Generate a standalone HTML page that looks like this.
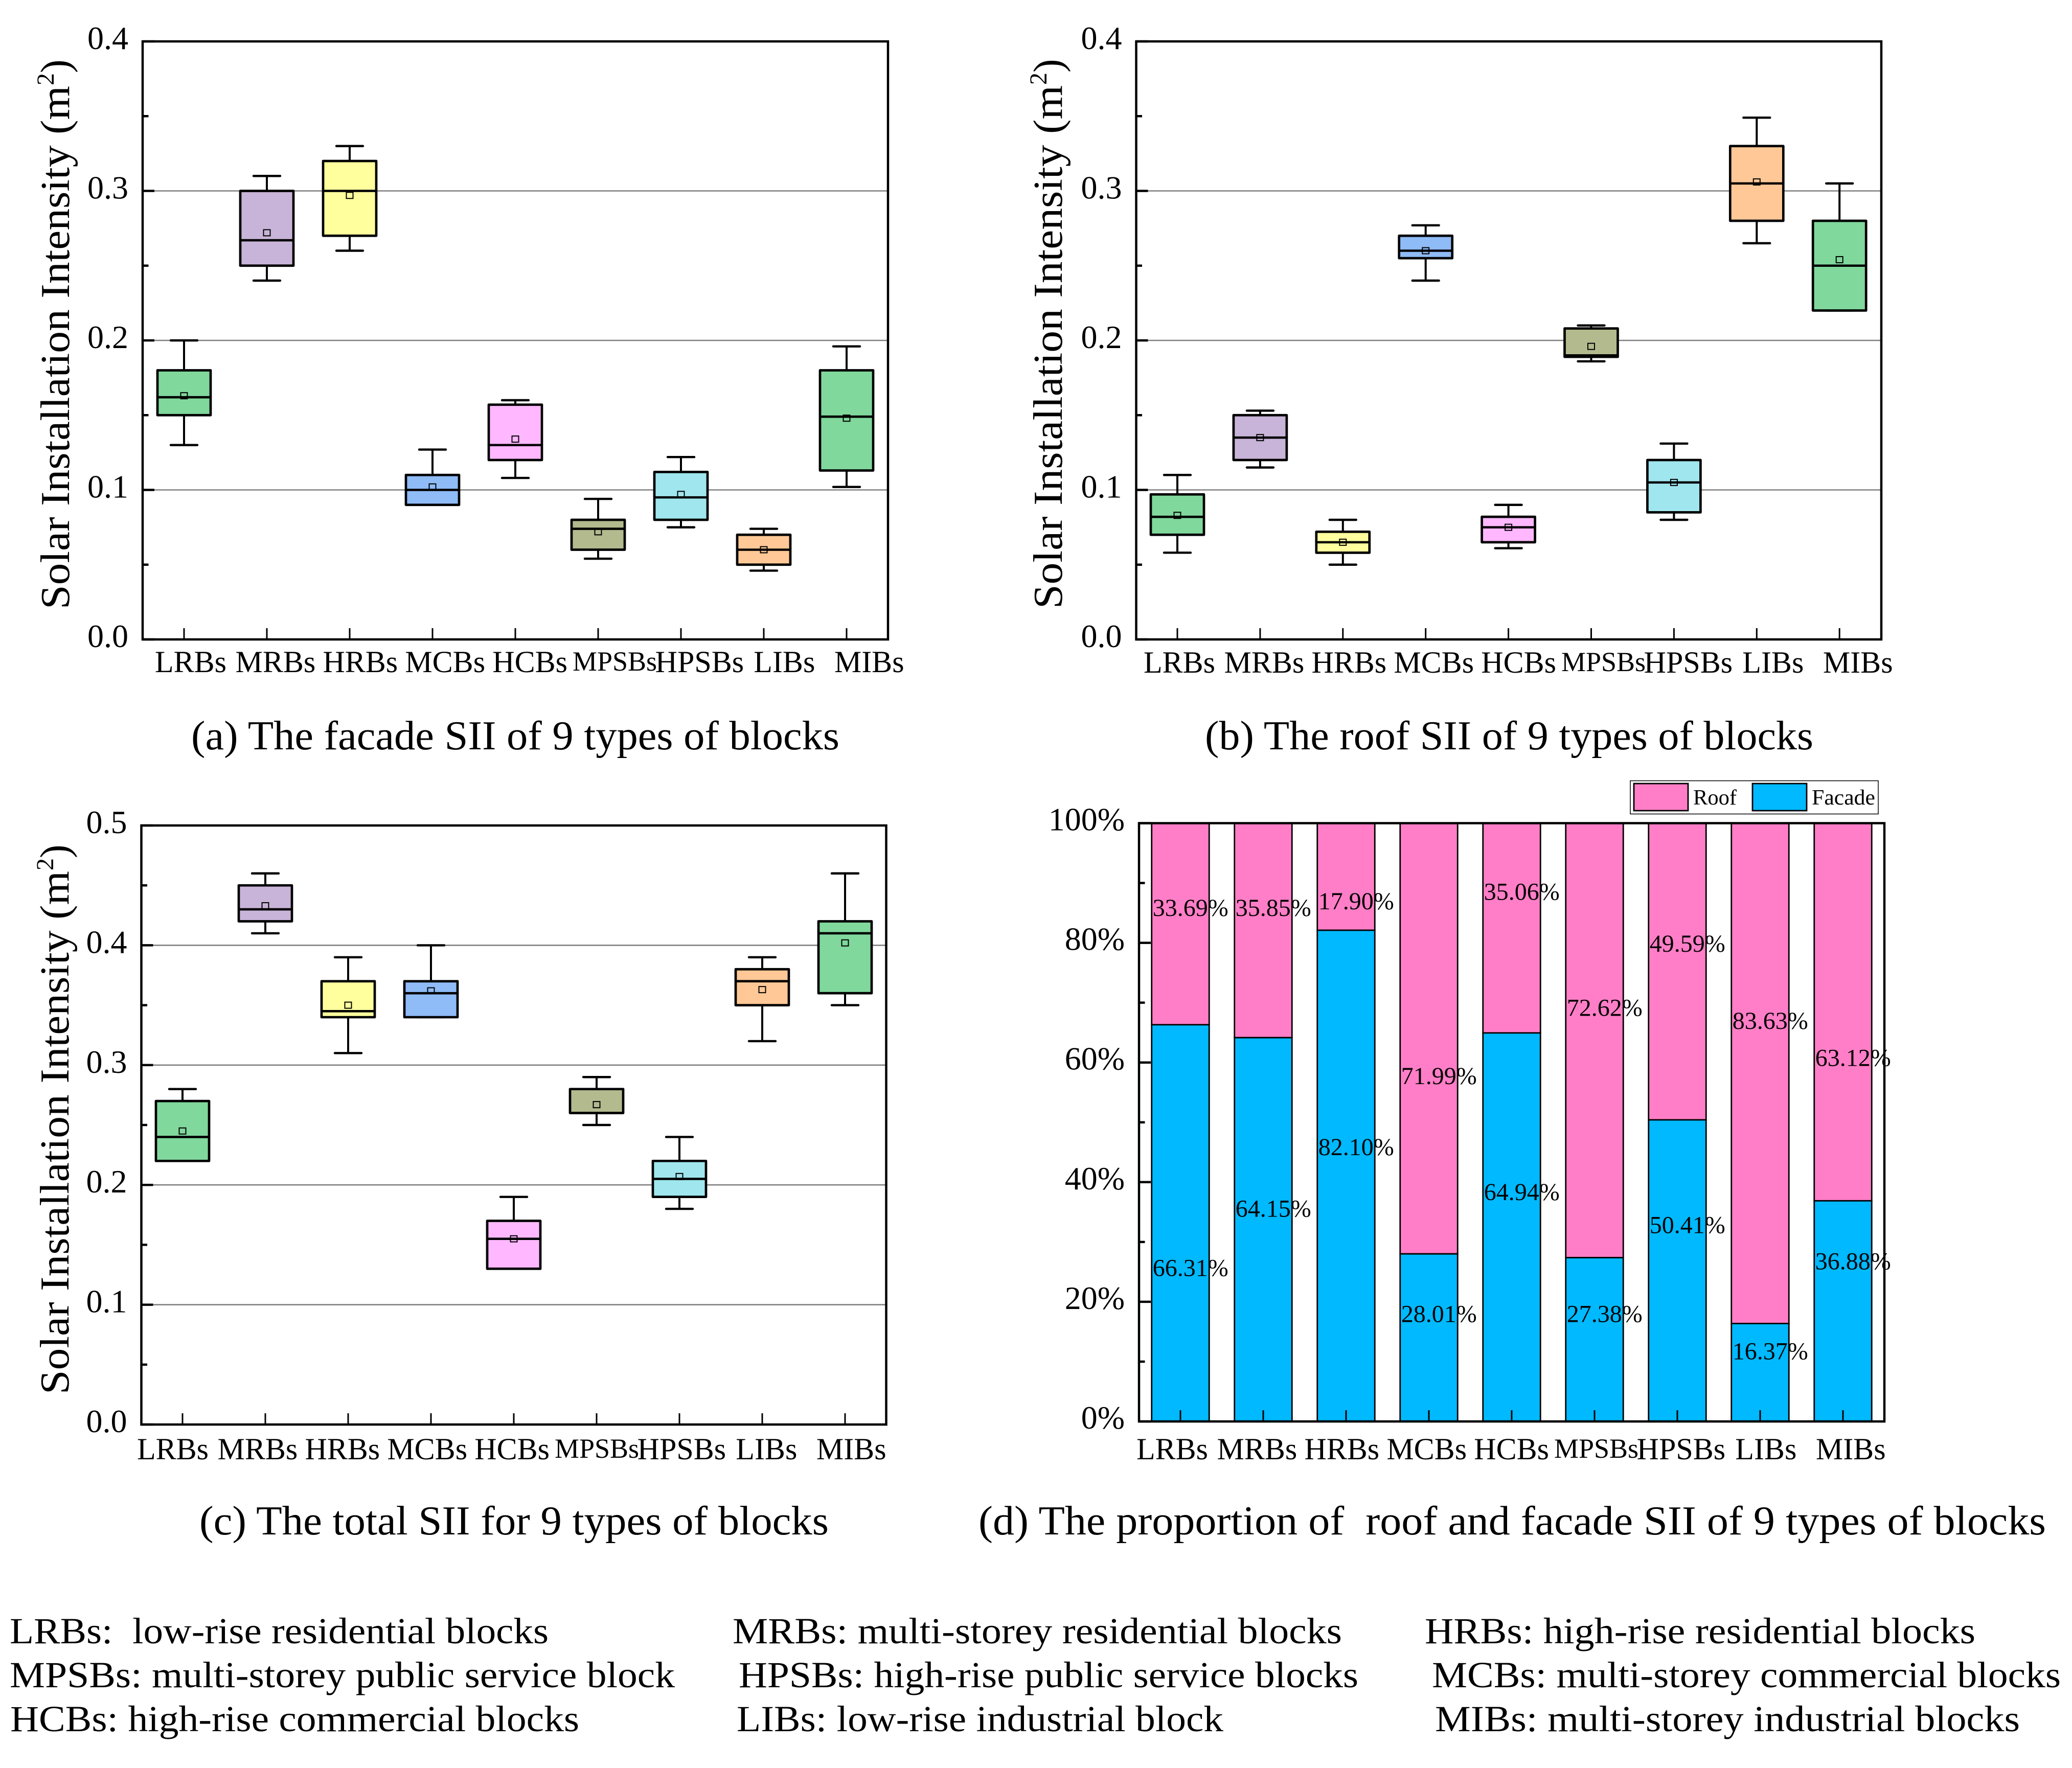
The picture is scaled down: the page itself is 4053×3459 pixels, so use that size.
<!DOCTYPE html>
<html lang="en">
<head>
<meta charset="utf-8">
<title>Solar Installation Intensity of 9 types of blocks</title>
<style>
html,body{margin:0;padding:0;background:#fff;}
svg{display:block;}
text{font-family:"Liberation Serif",serif;fill:#000;white-space:pre;}
.cap{font-size:80px;}
.note{font-size:72px;}
</style>
</head>
<body>
<svg id="figure" xmlns="http://www.w3.org/2000/svg" width="4053" height="3459" viewBox="0 0 4053 3459">
<rect x="0" y="0" width="4053" height="3459" fill="#fff"/>
<g id="panels"></g>
<text class="cap" x="374" y="1466" textLength="1268" lengthAdjust="spacingAndGlyphs">(a) The facade SII of 9 types of blocks</text>
<text class="cap" x="2357" y="1466" textLength="1190" lengthAdjust="spacingAndGlyphs">(b) The roof SII of 9 types of blocks</text>
<text class="cap" x="390" y="3002" textLength="1231" lengthAdjust="spacingAndGlyphs">(c) The total SII for 9 types of blocks</text>
<text class="cap" x="1914" y="3002" textLength="2088" lengthAdjust="spacingAndGlyphs">(d) The proportion of  roof and facade SII of 9 types of blocks</text>
<text class="note" x="19" y="3215" textLength="1054" lengthAdjust="spacingAndGlyphs">LRBs:  low-rise residential blocks</text>
<text class="note" x="1433" y="3215" textLength="1192" lengthAdjust="spacingAndGlyphs">MRBs: multi-storey residential blocks</text>
<text class="note" x="2787" y="3215" textLength="1077" lengthAdjust="spacingAndGlyphs">HRBs: high-rise residential blocks</text>
<text class="note" x="19" y="3301" textLength="1301" lengthAdjust="spacingAndGlyphs">MPSBs: multi-storey public service block</text>
<text class="note" x="1445" y="3301" textLength="1212" lengthAdjust="spacingAndGlyphs">HPSBs: high-rise public service blocks</text>
<text class="note" x="2801" y="3301" textLength="1230" lengthAdjust="spacingAndGlyphs">MCBs: multi-storey commercial blocks</text>
<text class="note" x="20" y="3387" textLength="1113" lengthAdjust="spacingAndGlyphs">HCBs: high-rise commercial blocks</text>
<text class="note" x="1441" y="3387" textLength="952" lengthAdjust="spacingAndGlyphs">LIBs: low-rise industrial block</text>
<text class="note" x="2807" y="3387" textLength="1144" lengthAdjust="spacingAndGlyphs">MIBs: multi-storey industrial blocks</text>
</svg>
<script>
const categories = ['LRBs','MRBs','HRBs','MCBs','HCBs','MPSBs','HPSBs','LIBs','MIBs'];
const boxColors = ['#80D89C','#C8B4D8','#FFFF9E','#8FBBF7','#FFB8FF','#B2BA8E','#A0E6EE','#FFC896','#80D89C'];

const axisTicksAB = ['0.0','0.1','0.2','0.3','0.4'];
const axisTicksC = ['0.0','0.1','0.2','0.3','0.4','0.5'];
const axisTicksD = ['0%','20%','40%','60%','80%','100%'];

const facadeLow    = [0.130,0.240,0.260,0.090,0.108,0.054,0.075,0.046,0.102];
const facadeQ1     = [0.150,0.250,0.270,0.090,0.120,0.060,0.080,0.050,0.113];
const facadeMedian = [0.162,0.267,0.300,0.100,0.130,0.074,0.095,0.060,0.149];
const facadeQ3     = [0.180,0.300,0.320,0.110,0.157,0.080,0.112,0.070,0.180];
const facadeHigh   = [0.200,0.310,0.330,0.127,0.160,0.094,0.122,0.074,0.196];
const facadeMean   = [0.163,0.272,0.297,0.102,0.134,0.072,0.097,0.060,0.148];

const roofLow    = [0.058,0.115,0.050,0.240,0.061,0.186,0.080,0.265,0.220];
const roofQ1     = [0.070,0.120,0.058,0.255,0.065,0.189,0.085,0.280,0.220];
const roofMedian = [0.082,0.135,0.065,0.260,0.075,0.190,0.105,0.305,0.250];
const roofQ3     = [0.097,0.150,0.072,0.270,0.082,0.208,0.120,0.330,0.280];
const roofHigh   = [0.110,0.153,0.080,0.277,0.090,0.210,0.131,0.349,0.305];
const roofMean   = [0.083,0.135,0.065,0.260,0.075,0.196,0.105,0.306,0.254];

const totalLow    = [0.220,0.410,0.310,0.340,0.130,0.250,0.180,0.320,0.350];
const totalQ1     = [0.220,0.420,0.340,0.340,0.130,0.260,0.190,0.350,0.360];
const totalMedian = [0.240,0.430,0.345,0.360,0.155,0.260,0.205,0.370,0.410];
const totalQ3     = [0.270,0.450,0.370,0.370,0.170,0.280,0.220,0.380,0.420];
const totalHigh   = [0.280,0.460,0.390,0.400,0.190,0.290,0.240,0.390,0.460];
const totalMean   = [0.245,0.433,0.350,0.362,0.155,0.267,0.207,0.363,0.402];

const facadeShare = [66.31,64.15,82.10,28.01,64.94,27.38,50.41,16.37,36.88];
const roofShare   = [33.69,35.85,17.90,71.99,35.06,72.62,49.59,83.63,63.12];
const facadeLabelLevel = [24.3,34.2,44.5,16.6,37.0,16.6,31.5,10.4,25.4];
const roofLabelLevel   = [84.5,84.5,85.6,56.4,87.2,67.8,78.5,65.6,59.4];

const SVGNS = 'http://www.w3.org/2000/svg';
const panels = document.getElementById('panels');

function make(tag, attrs, parent){
  const n = document.createElementNS(SVGNS, tag);
  for(const k in attrs){ n.setAttribute(k, attrs[k]); }
  parent.appendChild(n);
  return n;
}

function drawGrid(p, g, tickLabels){
  const y = function(frac){ return p.bottom - frac*(p.bottom-p.top); };
  const steps = tickLabels.length - 1;
  let el;
  for(let i=1;i<steps;i++){
    el = make('line',{x1:p.left,x2:p.right,y1:y(i/steps),y2:y(i/steps),stroke:'#808080','stroke-width':2.6},g);
    
    
  }
}

function drawAxisOverlay(p, g, tickLabels){
  const y = function(frac){ return p.bottom - frac*(p.bottom-p.top); };
  const steps = tickLabels.length - 1;
  let el;
  el = make('rect',{x:p.left,y:p.top,width:p.right-p.left,height:p.bottom-p.top,fill:'none',stroke:'#000','stroke-width':4.5},g);
  
  
  for(let i=0;i<=steps;i++){
    const ty = y(i/steps);
    el = make('line',{x1:p.left,x2:p.left+23,y1:ty,y2:ty,stroke:'#000','stroke-width':4.5},g);
    
    
    el = make('text',{x:p.left-28,y:ty+p.labelDrop,'text-anchor':'end','font-size':64},g);
    
    
    el.textContent = tickLabels[i];
    if(i<steps){
      const my = y((i+0.5)/steps);
      el = make('line',{x1:p.left,x2:p.left+11.5,y1:my,y2:my,stroke:'#000','stroke-width':4.5},g);
      
      
    }
  }
  categories.forEach(function(cat,i){
    const tx = p.tick0 + p.tickStep*i;
    el = make('line',{x1:tx,x2:tx,y1:p.bottom,y2:p.bottom-22,stroke:'#000','stroke-width':3},g);
    
    
    const small = cat==='MPSBs';
    el = make('text',{x:p.label0+165.9*i,y:p.labelBase-(small?3:0),'text-anchor':'middle','font-size':small?54:60},g);
    
    
    el.textContent = cat;
  });
}

function drawYTitle(x, y0, g){
  const t = make('g',{transform:'translate('+x+','+y0+') rotate(-90)'},g);
  
  
  let el;
  el = make('text',{x:0,y:0,'font-size':80,textLength:1024,lengthAdjust:'spacingAndGlyphs'},t);
  
  
  el.textContent = 'Solar Installation Intensity (m';
  el = make('text',{x:1025,y:-30,'font-size':48},t);
  
  
  el.textContent = '2';
  el = make('text',{x:1049,y:0,'font-size':80},t);
  
  
  el.textContent = ')';
}

function drawBoxChart(p, name, tickLabels, maxVal, low, q1, median, q3, high, mean){
  const g = make('g',{},panels);
  
  
  drawGrid(p, g, tickLabels);
  const yv = function(v){ return p.bottom - (v/maxVal)*(p.bottom-p.top); };
  categories.forEach(function(cat,i){
    const cx = p.tick0 + p.tickStep*i;
    const hw = 52;
    const box = make('g',{},g);
    
    
    let el;
    el = make('line',{x1:cx,x2:cx,y1:yv(high[i]),y2:yv(q3[i]),stroke:'#000','stroke-width':4},box);
    
    
    el = make('line',{x1:cx,x2:cx,y1:yv(q1[i]),y2:yv(low[i]),stroke:'#000','stroke-width':4},box);
    
    
    el = make('line',{x1:cx-26,x2:cx+26,y1:yv(high[i]),y2:yv(high[i]),stroke:'#000','stroke-width':4.4,'stroke-linecap':'round'},box);
    
    
    el = make('line',{x1:cx-26,x2:cx+26,y1:yv(low[i]),y2:yv(low[i]),stroke:'#000','stroke-width':4.4,'stroke-linecap':'round'},box);
    
    
    el = make('rect',{x:cx-hw,y:yv(q3[i]),width:hw*2,height:yv(q1[i])-yv(q3[i]),fill:boxColors[i],stroke:'#000','stroke-width':4.7,'stroke-linejoin':'round'},box);
    
    
    el = make('rect',{x:cx-6.5,y:yv(mean[i])-6,width:13,height:12,fill:'none',stroke:'#000','stroke-width':2},box);
    
    
    el = make('line',{x1:cx-hw,x2:cx+hw,y1:yv(median[i]),y2:yv(median[i]),stroke:'#000','stroke-width':4.6},box);
    
    
  });
  drawAxisOverlay(p, g, tickLabels);
  drawYTitle(p.titleX, p.titleY, g);
}

function drawStackChart(p, tickLabels){
  const g = make('g',{},panels);
  
  
  const yv = function(v){ return p.bottom - (v/100)*(p.bottom-p.top); };
  const bw = 112.5;
  let el;
  categories.forEach(function(cat,i){
    const cx = p.tick0 + p.tickStep*i;
    el = make('rect',{x:cx-bw/2,y:yv(facadeShare[i]+roofShare[i]),width:bw,height:yv(facadeShare[i])-yv(facadeShare[i]+roofShare[i]),fill:'#FF7EC7',stroke:'#000','stroke-width':2.8},g);
    
    
    el = make('rect',{x:cx-bw/2,y:yv(facadeShare[i]),width:bw,height:yv(0)-yv(facadeShare[i]),fill:'#00B9FF',stroke:'#000','stroke-width':2.8},g);
    
    
  });
  drawAxisOverlay(p, g, tickLabels);
  categories.forEach(function(cat,i){
    const lx = p.tick0 + p.tickStep*i - bw/2 + 2;
    el = make('text',{x:lx,y:yv(roofLabelLevel[i]),'font-size':48},g);
    
    
    el.textContent = roofShare[i].toFixed(2) + '%';
    el = make('text',{x:lx,y:yv(facadeLabelLevel[i]),'font-size':48},g);
    
    
    el.textContent = facadeShare[i].toFixed(2) + '%';
  });
  const lg = make('g',{},g);
  
  
  el = make('rect',{x:3189,y:1527.5,width:485,height:65,fill:'#fff',stroke:'#000','stroke-width':1.5},lg);
  
  
  el = make('rect',{x:3196,y:1533,width:106,height:53,fill:'#FF7EC7',stroke:'#000','stroke-width':2.8},lg);
  
  
  el = make('text',{x:3312,y:1574,'font-size':42,textLength:85,lengthAdjust:'spacingAndGlyphs'},lg);
  
  
  el.textContent = 'Roof';
  el = make('rect',{x:3428,y:1533,width:106,height:53,fill:'#00B9FF',stroke:'#000','stroke-width':2.8},lg);
  
  
  el = make('text',{x:3544,y:1574,'font-size':42,textLength:124,lengthAdjust:'spacingAndGlyphs'},lg);
  
  
  el.textContent = 'Facade';
}

drawBoxChart({left:279,right:1737,top:81,bottom:1251,tick0:360,tickStep:162,label0:373,labelBase:1315,labelDrop:15,titleX:135,titleY:1192},
  'chart-a-facade', axisTicksAB, 0.4, facadeLow, facadeQ1, facadeMedian, facadeQ3, facadeHigh, facadeMean);
drawBoxChart({left:2222.5,right:3680,top:81,bottom:1251,tick0:2303,tickStep:161.9,label0:2307,labelBase:1316,labelDrop:15,titleX:2077,titleY:1191},
  'chart-b-roof', axisTicksAB, 0.4, roofLow, roofQ1, roofMedian, roofQ3, roofHigh, roofMean);
drawBoxChart({left:276.5,right:1733.5,top:1615,bottom:2787,tick0:357,tickStep:162,label0:338,labelBase:2855,labelDrop:15,titleX:134,titleY:2728},
  'chart-c-total', axisTicksC, 0.5, totalLow, totalQ1, totalMedian, totalQ3, totalHigh, totalMean);
drawStackChart({left:2228,right:3686,top:1610.5,bottom:2781,tick0:2309,tickStep:162,label0:2293,labelBase:2855,labelDrop:14}, axisTicksD);
</script>
</body>
</html>
